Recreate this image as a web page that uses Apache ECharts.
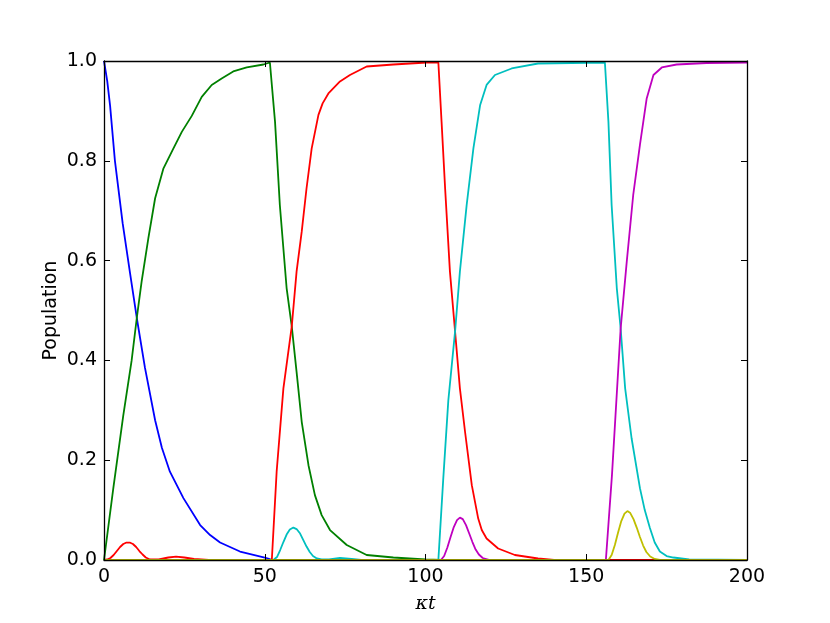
<!DOCTYPE html>
<html>
<head>
<meta charset="utf-8">
<script src="https://cdn.jsdelivr.net/npm/echarts@6/dist/echarts.min.js"></script>
<style>
  html, body { margin: 0; padding: 0; background: #fff; }
  #chart { width: 830px; height: 623px; }
</style>
</head>
<body>
<div id="chart"></div>
<script>
// x tick values and y tick values
const xTicks = [0, 50, 100, 150, 200];
const yTicks = [0, 0.2, 0.4, 0.6, 0.8, 1.0];

// population curves as [kappa*t, population]
const blueData = [[0,1.0],[1.0,0.96],[1.9,0.91],[3.4,0.80],[5.8,0.675],[8.1,0.575],[10.2,0.485],[12.75,0.385],[15.9,0.28],[18,0.225],[20.5,0.177],[24.7,0.124],[29.9,0.07],[33,0.05],[36.1,0.035],[42.3,0.017],[50,0.005],[51.5,0.002],[52.2,0],[200,0]];

const greenData = [[0,0],[2.9,0.144],[6.0,0.29],[8.6,0.40],[10.2,0.485],[11.7,0.558],[13.8,0.645],[15.9,0.725],[18.5,0.785],[21.6,0.825],[24.2,0.858],[27.3,0.89],[30.4,0.928],[33.5,0.952],[36.6,0.965],[40.2,0.979],[44.4,0.987],[49.6,0.993],[51.6,0.997],[52.2,0.997],[53.2,0.878],[54.7,0.711],[56.8,0.545],[58.4,0.468],[59.9,0.377],[61.5,0.277],[63.6,0.19],[65.6,0.13],[67.7,0.09],[70.3,0.06],[75.5,0.03],[81.7,0.01],[90,0.005],[100,0.001],[105,0],[200,0]];

const redData = [[0,0],[1,0.001],[2,0.004],[3,0.01],[4,0.018],[5,0.026],[6,0.032],[7,0.035],[8,0.035],[9,0.032],[10,0.026],[11,0.018],[12,0.011],[13,0.005],[14.3,0.001],[17,0.001],[18.5,0.003],[20,0.005],[22.4,0.0067],[25,0.005],[28,0.002],[32.6,0],[52.2,0],[53.7,0.177],[55.8,0.344],[58.4,0.468],[59.9,0.578],[61.5,0.658],[63.0,0.745],[64.6,0.825],[66.7,0.892],[68,0.915],[69.8,0.935],[73.4,0.959],[76.5,0.972],[81.7,0.989],[90,0.993],[100.4,0.997],[104,0.997],[105,0.878],[106.1,0.745],[107.6,0.578],[109.2,0.458],[110.7,0.344],[112.3,0.257],[114.4,0.15],[116.4,0.083],[117.5,0.06],[119,0.043],[122.6,0.023],[127.8,0.01],[135,0.003],[140,0],[200,0]];

const cyanData = [[0,0],[52.7,0],[53.8,0.006],[54.8,0.02],[55.8,0.036],[56.8,0.051],[57.8,0.061],[58.9,0.065],[59.9,0.062],[61,0.053],[62,0.04],[63,0.027],[64,0.016],[65,0.008],[66.2,0.003],[67.7,0.001],[70,0.001],[73.4,0.004],[77,0.002],[80,0],[104,0],[105.5,0.16],[107.1,0.32],[109.2,0.458],[110.7,0.578],[112.8,0.711],[114.9,0.825],[117,0.912],[119,0.952],[121.6,0.972],[126.8,0.985],[135,0.995],[155.8,0.997],[156.9,0.878],[157.9,0.711],[159.5,0.545],[160.7,0.464],[162.1,0.344],[164.1,0.244],[166.7,0.144],[168.2,0.1],[169.8,0.064],[171.3,0.035],[172.9,0.017],[175,0.008],[177.1,0.005],[182,0.001],[200,0]];

const magentaData = [[0,0],[104.8,0],[105.8,0.008],[106.8,0.025],[107.8,0.046],[108.8,0.066],[109.8,0.08],[110.7,0.085],[111.6,0.082],[112.6,0.07],[113.6,0.053],[114.6,0.036],[115.6,0.021],[116.6,0.011],[117.8,0.004],[120,0],[156.1,0],[158,0.17],[160.7,0.464],[162.6,0.598],[164.6,0.731],[166.7,0.832],[168.8,0.925],[170.9,0.972],[173.5,0.987],[178.1,0.993],[187.4,0.996],[200,0.997]];

const yellowData = [[0,0],[156.9,0],[157.9,0.01],[158.9,0.03],[159.9,0.055],[160.9,0.078],[161.9,0.093],[162.8,0.098],[163.7,0.094],[164.7,0.082],[165.7,0.065],[166.7,0.046],[167.7,0.029],[168.7,0.016],[169.9,0.007],[171.3,0.002],[172.9,0],[200,0]];

const chart = echarts.init(document.getElementById('chart'));

const tickFont = { fontFamily: 'DejaVu Sans', fontSize: 19, color: '#000' };
const frameLine = { show: true, onZero: false, lineStyle: { color: '#000', width: 1.3 } };
const frameTick = { show: true, inside: true, length: 6, lineStyle: { color: '#000', width: 1 } };

const lineSeries = (data, color) => ({
  type: 'line',
  data: data,
  showSymbol: false,
  smooth: false,
  lineStyle: { color: color, width: 1.8 },
  itemStyle: { color: color },
  animation: false
});

const option = {
  backgroundColor: '#fff',
  grid: { left: 104, right: 83, top: 61, bottom: 63 },
  xAxis: [
    {
      type: 'value', min: 0, max: 200, interval: 50, z: 5,
      name: 'κt', nameLocation: 'middle', nameGap: 35,
      nameTextStyle: { fontFamily: 'DejaVu Serif', fontStyle: 'italic', fontSize: 19, color: '#000' },
      axisLine: frameLine,
      axisTick: frameTick,
      axisLabel: Object.assign({ margin: 8 }, tickFont),
      splitLine: { show: false }
    },
    {
      type: 'value', position: 'top', min: 0, max: 200, interval: 50, z: 5,
      axisLine: frameLine,
      axisTick: frameTick,
      axisLabel: { show: false },
      splitLine: { show: false }
    }
  ],
  yAxis: [
    {
      type: 'value', min: 0, max: 1, interval: 0.2, z: 5,
      name: 'Population', nameLocation: 'middle', nameGap: 43, nameMoveOverlap: false,
      nameTextStyle: { fontFamily: 'DejaVu Sans', fontSize: 19, color: '#000' },
      axisLine: frameLine,
      axisTick: frameTick,
      axisLabel: Object.assign({ margin: 7, formatter: v => v.toFixed(1) }, tickFont),
      splitLine: { show: false }
    },
    {
      type: 'value', position: 'right', min: 0, max: 1, interval: 0.2, z: 5,
      axisLine: frameLine,
      axisTick: frameTick,
      axisLabel: { show: false },
      splitLine: { show: false }
    }
  ],
  series: [
    lineSeries(blueData, '#0000ff'),
    lineSeries(greenData, '#008000'),
    lineSeries(redData, '#ff0000'),
    lineSeries(cyanData, '#00bfbf'),
    lineSeries(magentaData, '#bf00bf'),
    lineSeries(yellowData, '#bfbf00')
  ]
};

chart.setOption(option);
</script>
</body>
</html>
